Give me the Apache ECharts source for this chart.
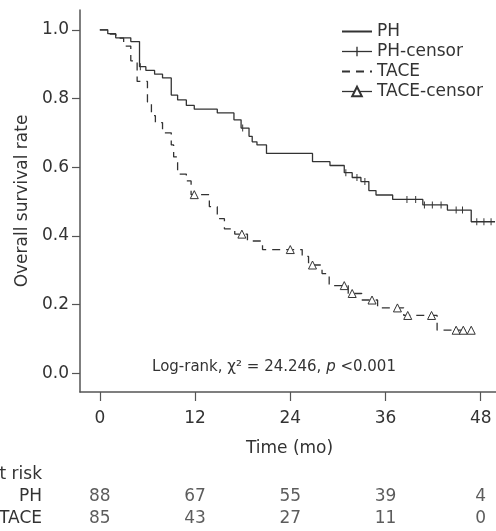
<!DOCTYPE html>
<html>
<head>
<meta charset="utf-8">
<script src="https://cdn.jsdelivr.net/npm/echarts@6/dist/echarts.min.js"></script>
<style>
html, body { margin: 0; padding: 0; background: #fff; }
#main { width: 496px; height: 531px; }
</style>
</head>
<body>
<div id="main"></div>
<script>
var months = [0, 12, 24, 36, 48];
var yTicks = [0, 0.2, 0.4, 0.6, 0.8, 1.0];

// Kaplan-Meier steps: [month, survival after the drop]
var phCurve = [
    [0, 1.0], [1.0, 0.989], [2.0, 0.977], [3.9, 0.966], [5.0, 0.893],
    [5.8, 0.882], [6.9, 0.871], [7.9, 0.86], [9.0, 0.81], [9.8, 0.796],
    [10.9, 0.78], [11.9, 0.769], [14.8, 0.758], [16.9, 0.738], [17.8, 0.714],
    [18.8, 0.69], [19.2, 0.674], [19.8, 0.665], [21.0, 0.64], [26.8, 0.616],
    [29.0, 0.605], [30.8, 0.584], [31.8, 0.57], [32.9, 0.558], [33.9, 0.532],
    [34.8, 0.519], [36.9, 0.506], [40.7, 0.49], [43.8, 0.475], [46.8, 0.441],
    [49.8, 0.441]
];
var phCensor = [
    [5.1, 0.893], [18.0, 0.714], [31.0, 0.584], [32.4, 0.57], [33.4, 0.558],
    [38.7, 0.506], [39.8, 0.506], [40.9, 0.49], [41.9, 0.49], [43.0, 0.49],
    [44.9, 0.475], [45.7, 0.475], [47.5, 0.441], [48.4, 0.441], [49.3, 0.441]
];
var taceCurve = [
    [0, 1.0], [1.0, 0.988], [2.0, 0.976], [3.0, 0.953], [3.9, 0.91],
    [4.7, 0.85], [6.0, 0.79], [6.5, 0.75], [7.0, 0.73], [7.9, 0.70],
    [9.0, 0.665], [9.3, 0.63], [9.8, 0.58], [10.9, 0.56], [11.5, 0.52],
    [13.8, 0.485], [14.8, 0.45], [15.7, 0.42], [17.0, 0.405], [18.6, 0.385],
    [20.5, 0.36], [25.5, 0.34], [26.3, 0.315], [28.0, 0.29], [28.9, 0.255],
    [31.3, 0.232], [33.0, 0.213], [35.0, 0.19], [38.3, 0.168], [42.5, 0.125],
    [46.8, 0.125]
];
var taceCensor = [
    [11.9, 0.52], [17.9, 0.405], [24.0, 0.36], [26.8, 0.315], [30.8, 0.255],
    [31.8, 0.232], [34.3, 0.213], [37.5, 0.19], [38.8, 0.168], [41.8, 0.168],
    [44.9, 0.125], [45.8, 0.125], [46.8, 0.125]
];

var riskRows = ['at risk', 'PH', 'TACE'];
var phAtRisk = [88, 67, 55, 39, 4];
var taceAtRisk = [85, 43, 27, 11, 0];

window.onload = function () {
    var font = 'DejaVu Sans';
    var ink = '#333';
    var axisInk = '#555';
    // thin vertical bar, padded with tiny corners so it keeps a square box
    var tickMark = 'path://M0,0L0.01,0L0,0.01Z M10,10L9.99,10L10,9.99Z M4.3,0H5.7V10H4.3Z';

    var riskData = [];
    for (var i = 0; i < months.length; i++) {
        riskData.push([months[i], 'PH', phAtRisk[i]]);
        riskData.push([months[i], 'TACE', taceAtRisk[i]]);
    }

    var myChart = echarts.init(document.getElementById('main'));
    var option = {
        animation: false,
        backgroundColor: '#fff',
        grid: [
            {left: 80, top: 10, width: 419, height: 382, outerBoundsMode: 'none'},
            {left: 80, top: 464, width: 419, height: 66, outerBoundsMode: 'none'}
        ],
        legend: {
            orient: 'vertical',
            left: 341,
            top: 23,
            padding: 0,
            itemWidth: 30,
            itemHeight: 12,
            itemGap: 3,
            textStyle: {fontFamily: font, fontSize: 17, color: ink},
            data: [
                {name: 'PH', itemStyle: {opacity: 0}},
                {name: 'PH-censor', lineStyle: {opacity: 1, color: ink, width: 1.3, type: 'solid'}},
                {name: 'TACE', itemStyle: {opacity: 0}},
                {name: 'TACE-censor', lineStyle: {opacity: 1, color: ink, width: 1.3, type: 'solid'}}
            ]
        },
        xAxis: [{
            type: 'value',
            gridIndex: 0,
            min: -2.5,
            max: 50.3,
            name: 'Time (mo)',
            nameLocation: 'middle',
            nameGap: 48,
            nameTextStyle: {fontFamily: font, fontSize: 17, color: ink},
            axisLine: {show: true, onZero: false, lineStyle: {color: axisInk, width: 1.5}},
            axisTick: {show: true, length: 9, customValues: months, lineStyle: {color: axisInk, width: 1.2}},
            axisLabel: {customValues: months, margin: 18, fontFamily: font, fontSize: 17, color: ink},
            splitLine: {show: false}
        }, {
            type: 'value',
            gridIndex: 1,
            min: -2.5,
            max: 50.3,
            show: false
        }],
        yAxis: [{
            type: 'value',
            gridIndex: 0,
            min: -0.055,
            max: 1.058,
            name: 'Overall survival rate',
            nameLocation: 'middle',
            nameGap: 41,
            nameTextStyle: {fontFamily: font, fontSize: 17, color: ink},
            axisLine: {show: true, onZero: false, lineStyle: {color: axisInk, width: 1.5}},
            axisTick: {show: true, length: 8, customValues: yTicks, lineStyle: {color: axisInk, width: 1.2}},
            axisLabel: {
                customValues: yTicks, margin: 11, fontFamily: font, fontSize: 17, color: ink,
                formatter: function (v) { return v.toFixed(1); }
            },
            splitLine: {show: false}
        }, {
            type: 'category',
            gridIndex: 1,
            data: riskRows,
            inverse: true,
            axisLine: {show: false},
            axisTick: {show: false},
            axisLabel: {interval: 0, margin: 38, fontFamily: font, fontSize: 17, color: ink},
            splitLine: {show: false}
        }],
        series: [{
            name: 'PH',
            type: 'line',
            step: 'end',
            data: phCurve,
            symbol: 'none',
            lineStyle: {color: ink, width: 1.3},
            itemStyle: {color: ink}
        }, {
            name: 'PH-censor',
            type: 'line',
            data: phCensor,
            symbol: tickMark,
            symbolSize: 7,
            lineStyle: {opacity: 0},
            itemStyle: {color: ink}
        }, {
            name: 'TACE',
            type: 'line',
            step: 'end',
            data: taceCurve,
            symbol: 'none',
            lineStyle: {color: ink, width: 1.3, type: [8, 6]},
            itemStyle: {color: ink}
        }, {
            name: 'TACE-censor',
            type: 'line',
            data: taceCensor,
            symbol: 'triangle',
            symbolSize: 8,
            lineStyle: {opacity: 0},
            itemStyle: {color: '#fff', borderColor: ink, borderWidth: 1}
        }, {
            name: 'risk',
            type: 'scatter',
            xAxisIndex: 1,
            yAxisIndex: 1,
            data: riskData,
            symbolSize: 1,
            itemStyle: {color: 'transparent'},
            label: {
                show: true,
                position: 'inside',
                fontFamily: font,
                fontSize: 17,
                color: ink,
                formatter: function (p) { return p.value[2]; }
            }
        }],
        graphic: [{
            type: 'text',
            x: 274,
            y: 367,
            style: {
                text: 'Log-rank, χ² = 24.246, {i|p} <0.001',
                fontFamily: font,
                fontSize: 15,
                fill: ink,
                align: 'center',
                verticalAlign: 'middle',
                rich: {
                    i: {fontStyle: 'italic', fontFamily: font, fontSize: 15, fill: ink}
                }
            }
        }]
    };
    myChart.setOption(option);
};
</script>
</body>
</html>
